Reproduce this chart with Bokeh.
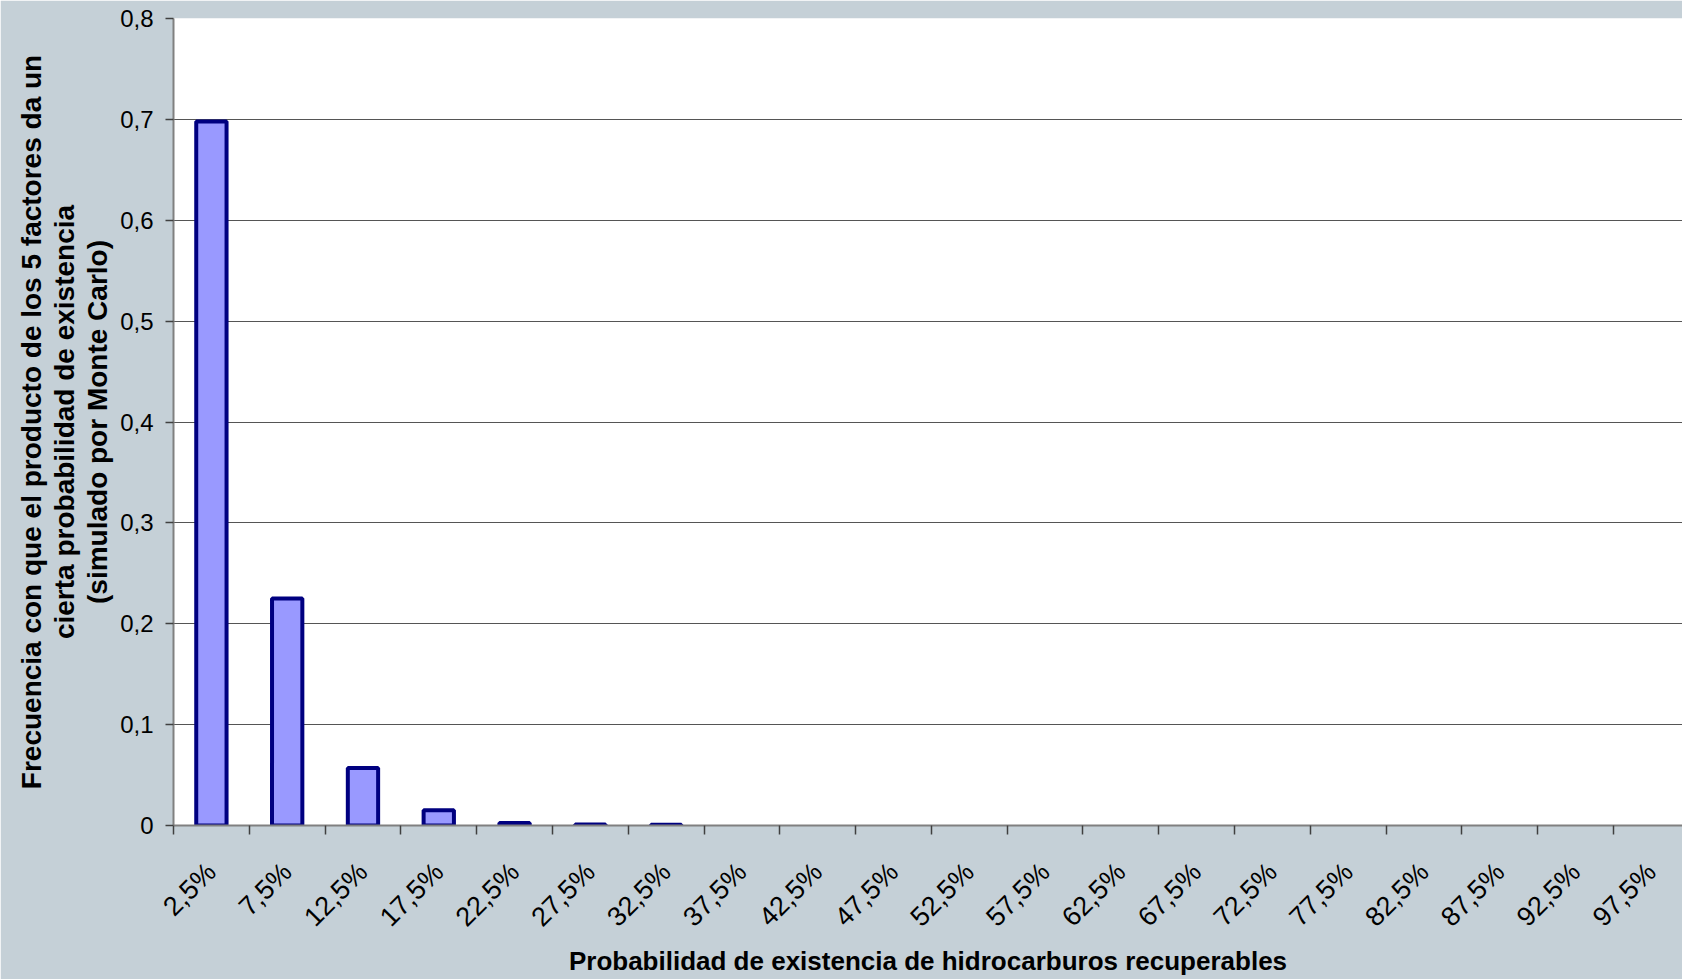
import math
from bokeh.plotting import figure
from bokeh.models import Range1d, FixedTicker, CustomJSTickFormatter
from bokeh.embed import file_html
from bokeh.resources import INLINE

# ---- data ----
categories = ["2,5%", "7,5%", "12,5%", "17,5%", "22,5%", "27,5%", "32,5%", "37,5%",
              "42,5%", "47,5%", "52,5%", "57,5%", "62,5%", "67,5%", "72,5%", "77,5%",
              "82,5%", "87,5%", "92,5%", "97,5%"]
frequencies = [0.698, 0.225, 0.057, 0.015, 0.0025, 0.0009, 0.0007, 0.0, 0.0, 0.0,
               0.0, 0.0, 0.0, 0.0, 0.0, 0.0, 0.0, 0.0, 0.0, 0.0]
y_ticks = [0.0, 0.1, 0.2, 0.3, 0.4, 0.5, 0.6, 0.7, 0.8]
y_tick_labels = ["0", "0,1", "0,2", "0,3", "0,4", "0,5", "0,6", "0,7", "0,8"]

x_title = "Probabilidad de existencia de hidrocarburos recuperables"
y_title = ("Frecuencia con que el producto de los 5 factores da un\n"
           "cierta probabilidad de existencia\n"
           "(simulado por Monte Carlo)")

# ---- figure ----
FONT = "Liberation Sans"
BG = "#C5D0D7"

n = len(categories)
centers = list(range(n))
boundaries = [i - 0.5 for i in range(n + 1)]

p = figure(width=1682, height=979, output_backend="svg", toolbar_location=None,
           x_range=Range1d(-0.5, 19.41), y_range=Range1d(0, 0.8),
           min_border_left=173, min_border_top=18, min_border_bottom=154,
           min_border_right=0)
p.background_fill_color = "white"
p.border_fill_color = BG
p.outline_line_color = None

xs = [c for c, f in zip(centers, frequencies) if f > 0]
tops = [f for f in frequencies if f > 0]
p.vbar(x=xs, top=tops, bottom=0, width=0.4, fill_color="#9999FF",
       line_color="#000080", line_width=4)

# grid
p.xgrid.visible = False
p.ygrid.ticker = FixedTicker(ticks=y_ticks)
p.ygrid.grid_line_color = "#555555"
p.ygrid.grid_line_width = 1.2

# x axis
xa = p.xaxis[0]
xa.ticker = FixedTicker(ticks=centers, minor_ticks=boundaries)
xa.formatter = CustomJSTickFormatter(args=dict(cats=categories),
                                     code="const i = Math.round(tick); return (i >= 0 && i < cats.length) ? cats[i] : '';")
xa.major_tick_out = 0
xa.major_tick_in = 0
xa.minor_tick_out = 9
xa.minor_tick_in = 0
xa.minor_tick_line_color = "#404040"
xa.minor_tick_line_width = 1.5
xa.axis_line_color = "#808080"
xa.axis_line_width = 2
xa.major_label_orientation = math.pi / 4
xa.major_label_standoff = 33
xa.major_label_text_font = FONT
xa.major_label_text_font_size = "27px"
xa.major_label_text_color = "black"
xa.axis_label = x_title
xa.axis_label_text_font = FONT
xa.axis_label_text_font_size = "26px"
xa.axis_label_text_font_style = "bold"
xa.axis_label_text_color = "black"
xa.axis_label_standoff = 0

# y axis
ya = p.yaxis[0]
ya.ticker = FixedTicker(ticks=y_ticks)
ya.formatter = CustomJSTickFormatter(args=dict(yvals=y_ticks, ylabels=y_tick_labels),
                                     code="for (let i = 0; i < yvals.length; i++) { if (Math.abs(yvals[i] - tick) < 1e-6) return ylabels[i]; } return '';")
ya.major_tick_out = 8
ya.major_tick_in = 0
ya.minor_tick_out = 0
ya.minor_tick_in = 0
ya.major_tick_line_color = "#404040"
ya.major_tick_line_width = 1.5
ya.axis_line_color = "#808080"
ya.axis_line_width = 2
ya.major_label_standoff = 12
ya.major_label_text_font = FONT
ya.major_label_text_font_size = "24px"
ya.major_label_text_color = "black"
ya.axis_label = y_title
ya.axis_label_text_font = FONT
ya.axis_label_text_font_size = "28px"
ya.axis_label_text_font_style = "bold"
ya.axis_label_text_color = "black"
ya.axis_label_text_align = "center"
ya.axis_label_text_line_height = 1.07
ya.axis_label_standoff = 4

open("out.html", "w").write(file_html(p, INLINE))
